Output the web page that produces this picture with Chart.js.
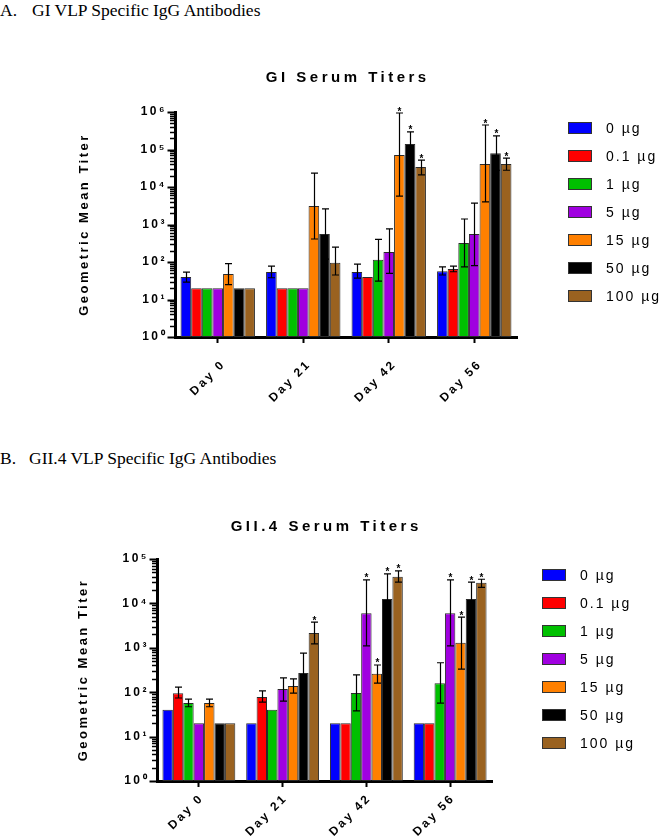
<!DOCTYPE html>
<html><head><meta charset="utf-8">
<script src="https://cdn.jsdelivr.net/npm/chart.js@4"></script>
<style>
html,body{margin:0;padding:0;background:#fff;}
body{width:660px;height:838px;position:relative;overflow:hidden;}
.h{position:absolute;left:0;font-family:'Liberation Serif','Times New Roman',serif;font-size:17.5px;line-height:17px;color:#000;white-space:nowrap;}
.h span{display:inline-block;}
canvas{position:absolute;left:0;}
</style></head><body>
<div class="h" style="top:2px"><span style="width:32px">A.</span>GI VLP Specific IgG Antibodies</div>
<div class="h" style="top:450px"><span style="width:29px">B.</span>GII.4 VLP Specific IgG Antibodies</div>
<canvas id="cA" width="660" height="380" style="top:40px"></canvas>
<canvas id="cB" width="660" height="358" style="top:480px"></canvas>
<script>
// ---------- shared labels ----------
const categories = ['Day 0', 'Day 21', 'Day 42', 'Day 56'];
const doses = ['0 µg', '0.1 µg', '1 µg', '5 µg', '15 µg', '50 µg', '100 µg'];
const doseColors = ['#0000FF', '#FF0000', '#00C000', '#A000E0', '#FF8000', '#000000', '#9A6220'];

// ---------- A. GI serum titers (geometric mean, error bar high / low) ----------
const gi0     = [40, 54, 54, 57];        const gi0Hi   = [54, 78, 88, 74];             const gi0Lo   = [29, 38, 37, 45];
const gi01    = [20, 20, 40, 65];        const gi01Hi  = [null, null, null, 78];       const gi01Lo  = [null, null, null, 55];
const gi1     = [20, 20, 115, 320];      const gi1Hi   = [null, null, 400, 1400];      const gi1Lo   = [null, null, 31, 74];
const gi5     = [20, 20, 185, 560];      const gi5Hi   = [null, null, 760, 3700];      const gi5Lo   = [null, null, 50, 80];
const gi15    = [48, 3100, 71000, 41000];const gi15Hi  = [90, 23500, 940000, 450000]; const gi15Lo  = [25, 410, 5700, 4000];
const gi50    = [20, 560, 140000, 80000];const gi50Hi  = [null, 2600, 295000, 230000];const gi50Lo  = [null, 120, 65000, 28000];
const gi100   = [20, 95, 34000, 41000];  const gi100Hi = [null, 250, 52000, 59000];   const gi100Lo = [null, 45, 21000, 28000];
const giStars = [[0,0,0,0],[0,0,0,0],[0,0,0,0],[0,0,0,0],[0,0,1,1],[0,0,1,1],[0,0,1,1]];

// ---------- B. GII.4 serum titers ----------
const gii0     = [40, 20, 20, 20];         const gii0Hi   = [null, null, null, null];   const gii0Lo   = [null, null, null, null];
const gii01    = [95, 78, 20, 20];         const gii01Hi  = [130, 107, null, null];     const gii01Lo  = [74, 60, null, null];
const gii1     = [57, 40, 96, 160];        const gii1Hi   = [70, null, 245, 460];       const gii1Lo   = [47, null, 38, 57];
const gii5     = [20, 118, 6000, 6000];    const gii5Hi   = [null, 210, 34000, 34000];  const gii5Lo   = [null, 63, 1100, 1100];
const gii15    = [57, 138, 260, 1300];     const gii15Hi  = [70, 200, 410, 4900];       const gii15Lo  = [47, 95, 160, 330];
const gii50    = [20, 270, 12500, 12500];  const gii50Hi  = [null, 760, 46000, 30000];  const gii50Lo  = [null, 100, 3400, 5200];
const gii100   = [20, 2150, 40000, 29000]; const gii100Hi = [null, 3800, 54000, 35000]; const gii100Lo = [null, 1230, 30000, 23000];
const giiStars = [[0,0,0,0],[0,0,0,0],[0,0,0,0],[0,0,1,1],[0,0,1,1],[0,0,1,1],[0,1,1,1]];

// ---------- axis tick labels ----------
const supDigits = ['⁰','¹','²','³','⁴','⁵','⁶'];
function logTicks(maxExp){
  const t = [];
  for (let e = 0; e < maxExp; e++) for (let m = 1; m <= 9; m++) t.push(m * Math.pow(10, e));
  t.push(Math.pow(10, maxExp));
  return t;
}
function powLabel(v){
  const e = Math.round(Math.log10(v));
  return Math.abs(v - Math.pow(10, e)) < 1e-6 * v ? '10' + supDigits[e] : '';
}

Chart.defaults.font.family = "'Liberation Sans', Arial, sans-serif";
Chart.defaults.color = '#000';

function decorPlugin(info){
  return {
    id: 'decor' + info.key,
    beforeLayout(chart){ chart.ctx.letterSpacing = '2.5px'; },
    beforeDraw(chart){ chart.ctx.letterSpacing = '2.5px'; },
    afterDatasetsDraw(chart){
      const ctx = chart.ctx, ys = chart.scales.y;
      ctx.save();
      ctx.strokeStyle = '#000'; ctx.fillStyle = '#000'; ctx.lineWidth = 1.2;
      chart.data.datasets.forEach((ds, i) => {
        const meta = chart.getDatasetMeta(i);
        meta.data.forEach((el, j) => {
          const hi = info.hi[i][j], lo = info.lo[i][j];
          if (hi == null) return;
          const x = Math.round(el.x) + 0.5;
          const yh = ys.getPixelForValue(hi), yl = ys.getPixelForValue(lo);
          ctx.beginPath();
          ctx.moveTo(x, yl); ctx.lineTo(x, yh);
          ctx.moveTo(x - 3.5, yh); ctx.lineTo(x + 3.5, yh);
          ctx.moveTo(x - 3.5, yl); ctx.lineTo(x + 3.5, yl);
          ctx.stroke();
          if (info.stars[i][j]) {
            ctx.letterSpacing = '0px';
            ctx.font = "bold 10px 'Liberation Sans', Arial";
            ctx.textAlign = 'center'; ctx.textBaseline = 'alphabetic';
            ctx.fillText('*', x, yh + 1.5);
          }
        });
      });
      ctx.restore();
    },
    afterDraw(chart){
      const ctx = chart.ctx, a = chart.chartArea, ys = chart.scales.y;
      ctx.save();
      // y-axis tick marks (major and minor)
      ctx.strokeStyle = '#000';
      ys.ticks.forEach(t => {
        const p = Math.round(ys.getPixelForValue(t.value)) + 0.5;
        const major = powLabel(t.value) !== '';
        ctx.lineWidth = major ? 2 : 1.5;
        ctx.beginPath();
        ctx.moveTo(a.left - 1, p); ctx.lineTo(a.left - 1.5 - (major ? 6 : 3.5), p);
        ctx.stroke();
      });
      // chart title
      ctx.letterSpacing = '3.5px';
      ctx.font = "bold 15px 'Liberation Sans', Arial";
      ctx.fillStyle = '#000'; ctx.textAlign = 'center'; ctx.textBaseline = 'middle';
      ctx.fillText(info.title, (a.left + a.right) / 2 + 1.75, a.top - info.titleDy);
      // legend
      ctx.letterSpacing = '2px';
      ctx.font = "14px 'Liberation Sans', Arial";
      ctx.textAlign = 'left';
      const bx = a.right + info.legendDx;
      doses.forEach((d, i) => {
        const y = a.top + 16 + i * 28;
        ctx.fillStyle = doseColors[i];
        ctx.fillRect(bx, y - 6, 24, 12);
        ctx.strokeStyle = '#333'; ctx.lineWidth = 1;
        ctx.strokeRect(bx + 0.5, y - 5.5, 23, 11);
        ctx.fillStyle = '#000';
        ctx.fillText(d, bx + 38, y + 1);
      });
      ctx.restore();
    }
  };
}

function makeChart(id, series, info, geo){
  const ticks = logTicks(geo.maxExp);
  return new Chart(document.getElementById(id), {
    type: 'bar',
    data: {
      labels: categories,
      datasets: series.map((s, i) => ({
        label: doses[i], data: s,
        backgroundColor: doseColors[i], borderColor: '#2a2a2a', borderWidth: 1,
        borderSkipped: false,
        categoryPercentage: 0.87, barPercentage: 1.0
      }))
    },
    options: {
      responsive: false, animation: false, devicePixelRatio: 1,
      layout: { padding: { top: geo.top, left: geo.left, right: geo.right, bottom: 0 } },
      plugins: { legend: { display: false }, tooltip: { enabled: false }, title: { display: false } },
      scales: {
        x: {
          type: 'category', offset: true,
          grid: { display: true, drawOnChartArea: false, offset: false, drawTicks: true, tickLength: 6, tickWidth: 2, tickColor: '#000', color: 'rgba(0,0,0,0)' },
          border: { display: true, color: '#000', width: 3 },
          ticks: { color: '#000', font: { size: 12, weight: 'bold' }, minRotation: 45, maxRotation: 45,
                   padding: geo.xPad, labelOffset: geo.xShift, autoSkip: false },
          afterFit: s => { s.height = geo.xHeight; }
        },
        y: {
          type: 'logarithmic', min: 1, max: Math.pow(10, geo.maxExp),
          afterBuildTicks: s => { s.ticks = ticks.map(v => ({ value: v })); },
          grid: { display: true, drawOnChartArea: false, drawTicks: true, tickLength: 6, color: 'rgba(0,0,0,0)' },
          border: { display: true, color: '#000', width: 3 },
          ticks: { autoSkip: false, padding: 2, color: '#000', font: { size: 12, weight: 'bold' }, callback: v => powLabel(v) },
          title: { display: true, text: 'Geometric Mean Titer', color: '#000', font: { size: 13, weight: 'bold' }, padding: { top: 4, bottom: 4 } },
          afterFit: s => { s.width = geo.yWidth; }
        }
      }
    },
    plugins: [decorPlugin(info)]
  });
}

makeChart('cA',
  [gi0, gi01, gi1, gi5, gi15, gi50, gi100],
  { key: 'A', title: 'GI Serum Titers', titleDy: 34, legendDx: 51,
    hi: [gi0Hi, gi01Hi, gi1Hi, gi5Hi, gi15Hi, gi50Hi, gi100Hi],
    lo: [gi0Lo, gi01Lo, gi1Lo, gi5Lo, gi15Lo, gi50Lo, gi100Lo], stars: giStars },
  { maxExp: 6, top: 72, left: 73, right: 143, yWidth: 102, xHeight: 83, xPad: 14, xShift: 6 });

makeChart('cB',
  [gii0, gii01, gii1, gii5, gii15, gii50, gii100],
  { key: 'B', title: 'GII.4 Serum Titers', titleDy: 32, legendDx: 50,
    hi: [gii0Hi, gii01Hi, gii1Hi, gii5Hi, gii15Hi, gii50Hi, gii100Hi],
    lo: [gii0Lo, gii01Lo, gii1Lo, gii5Lo, gii15Lo, gii50Lo, gii100Lo], stars: giiStars },
  { maxExp: 5, top: 79, left: 72, right: 168, yWidth: 85, xHeight: 57, xPad: 4, xShift: 3 });
</script>
</body></html>
